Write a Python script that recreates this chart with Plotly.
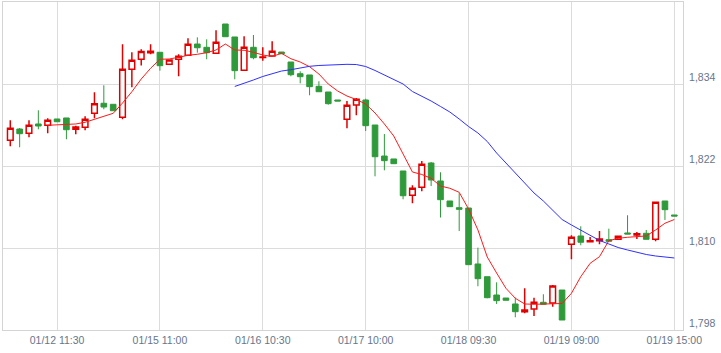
import plotly.graph_objects as go

# ---- data ----
opens = [1825.76, 1827.41, 1826.79, 1828.15, 1827.96, 1828.88, 1829.03, 1827.37, 1827.66, 1829.71,
         1831.18, 1831.03, 1829.13, 1836.15, 1837.62, 1838.58, 1838.64, 1836.88, 1837.62, 1838.20,
         1839.85, 1839.37, 1838.49, 1842.78, 1840.88, 1836.01, 1839.37, 1837.86, 1838.10, 1838.68,
         1837.22, 1835.51, 1835.32, 1833.66, 1832.83, 1831.66, 1828.84, 1830.93, 1831.66, 1828.00,
         1823.46, 1823.03, 1821.27, 1817.71, 1818.88, 1822.44, 1819.81, 1816.88, 1815.90, 1815.85,
         1807.66, 1805.80, 1803.12, 1802.68, 1801.81, 1800.68, 1801.07, 1802.05, 1801.95, 1803.85,
         1810.54, 1811.76, 1810.92, 1811.07, 1811.22, 1811.27, 1812.20, 1811.90, 1812.15, 1811.27,
         1816.88, 1814.83]
highs = [1828.69, 1827.56, 1828.69, 1830.15, 1828.98, 1828.88, 1829.03, 1827.90, 1829.27, 1832.79,
         1833.81, 1831.03, 1839.81, 1838.64, 1839.08, 1839.81, 1838.64, 1837.51, 1838.35, 1840.69,
         1840.83, 1840.54, 1841.86, 1842.78, 1840.88, 1840.98, 1841.17, 1839.37, 1840.25, 1838.68,
         1837.22, 1835.86, 1835.32, 1834.40, 1832.83, 1831.66, 1831.51, 1831.95, 1831.85, 1828.00,
         1826.68, 1823.03, 1821.27, 1819.18, 1822.73, 1822.59, 1821.08, 1816.88, 1818.01, 1815.85,
         1810.05, 1805.80, 1804.98, 1802.68, 1802.73, 1804.10, 1802.73, 1803.23, 1804.59, 1803.85,
         1811.86, 1813.18, 1811.61, 1812.49, 1812.83, 1811.71, 1814.79, 1812.34, 1812.64, 1816.69,
         1816.88, 1814.83]
lows = [1824.88, 1824.74, 1826.20, 1827.37, 1826.79, 1828.48, 1825.91, 1826.64, 1827.23, 1828.98,
        1830.30, 1830.09, 1828.84, 1833.52, 1836.71, 1838.35, 1835.95, 1836.88, 1835.13, 1838.20,
        1838.58, 1837.62, 1838.49, 1840.92, 1834.69, 1836.01, 1837.62, 1837.41, 1838.10, 1838.43,
        1835.13, 1834.10, 1832.35, 1832.87, 1830.97, 1831.51, 1827.52, 1829.42, 1827.12, 1820.49,
        1821.37, 1822.34, 1817.13, 1816.54, 1818.30, 1819.07, 1814.46, 1816.05, 1812.49, 1807.56,
        1804.40, 1802.64, 1801.81, 1802.35, 1799.86, 1800.45, 1800.05, 1801.76, 1801.41, 1799.46,
        1808.35, 1810.40, 1810.92, 1810.54, 1810.98, 1811.27, 1812.05, 1811.32, 1811.27, 1810.98,
        1814.10, 1814.68]
closes = [1827.52, 1826.73, 1827.96, 1827.85, 1828.69, 1828.48, 1827.31, 1827.71, 1828.84, 1831.12,
          1830.63, 1830.09, 1836.15, 1837.47, 1838.76, 1838.79, 1836.68, 1837.51, 1838.05, 1839.81,
          1839.31, 1838.58, 1840.10, 1840.92, 1835.95, 1839.37, 1837.85, 1837.95, 1838.79, 1838.43,
          1835.36, 1835.07, 1833.61, 1832.87, 1831.12, 1831.51, 1830.88, 1831.76, 1827.90, 1823.36,
          1822.78, 1822.34, 1817.65, 1818.74, 1822.25, 1819.95, 1817.07, 1816.05, 1815.66, 1807.56,
          1805.51, 1802.73, 1802.29, 1802.35, 1800.68, 1800.93, 1802.05, 1801.76, 1804.44, 1799.46,
          1811.57, 1810.84, 1811.07, 1811.32, 1810.98, 1811.71, 1812.05, 1812.09, 1811.27, 1816.69,
          1815.61, 1814.68]

ma_short_start = 4
ma_short = [1827.96, 1828.04, 1828.10, 1828.15, 1828.40, 1828.84, 1829.22, 1829.71, 1831.22, 1832.87,
            1834.73, 1836.30, 1837.62, 1837.66, 1837.91, 1838.20, 1838.35, 1838.58, 1838.98, 1839.85,
            1838.98, 1838.93, 1838.64, 1838.24, 1838.03, 1838.49, 1837.70, 1837.22, 1836.53, 1835.46,
            1834.00, 1832.98, 1832.24, 1831.73, 1831.07, 1829.76, 1828.15, 1826.39, 1823.76, 1821.12,
            1820.76, 1820.20, 1819.07, 1818.74, 1818.15, 1815.71, 1812.64, 1808.68, 1806.34, 1804.10,
            1802.64, 1801.81, 1801.76, 1801.81, 1801.81, 1801.88, 1803.37, 1805.80, 1807.76, 1808.73,
            1811.07, 1811.42, 1811.57, 1811.65, 1811.76, 1812.64, 1813.62, 1814.17]

ma_long_start = 24
ma_long = [1833.64, 1834.07, 1834.59, 1835.10, 1835.54, 1835.90, 1836.09, 1836.34, 1836.59, 1836.71,
           1836.78, 1836.83, 1836.88, 1836.85, 1836.56, 1835.98, 1835.32, 1834.73, 1834.00, 1832.90,
           1832.24, 1831.51, 1830.71, 1829.90, 1828.88, 1827.78, 1826.83, 1825.59, 1823.90, 1822.44,
           1820.98, 1819.37, 1818.05, 1816.88, 1815.56, 1814.17, 1813.37, 1812.64, 1811.90, 1811.10,
           1810.59, 1810.07, 1809.71, 1809.34, 1809.05, 1808.83, 1808.68, 1808.54]

tick_positions = [5, 16, 27, 38, 49, 60, 71]
tick_labels = ["01/12 11:30", "01/15 11:00", "01/16 10:30", "01/17 10:00",
               "01/18 09:30", "01/19 09:00", "01/19 15:00"]
y_ticks = [1798, 1810, 1822, 1834]

# ---- figure ----
x = list(range(len(opens)))
RED = "#e00000"
GREEN = "#2f9a3a"

fig = go.Figure()
fig.add_trace(go.Candlestick(
    x=x, open=opens, high=highs, low=lows, close=closes,
    increasing=dict(line=dict(color=RED, width=1.5), fillcolor="#ffffff"),
    decreasing=dict(line=dict(color=GREEN, width=1), fillcolor=GREEN),
    whiskerwidth=0, showlegend=False, hoverinfo="skip",
))
fig.add_trace(go.Scatter(
    x=list(range(ma_short_start, ma_short_start + len(ma_short))), y=ma_short,
    mode="lines", line=dict(color="#ff1a1a", width=1), showlegend=False, hoverinfo="skip",
))
fig.add_trace(go.Scatter(
    x=list(range(ma_long_start, ma_long_start + len(ma_long))), y=ma_long,
    mode="lines", line=dict(color="#3030ff", width=1), showlegend=False, hoverinfo="skip",
))

font = dict(family="Liberation Sans, Arial, sans-serif", size=10.5, color="#66768a")
fig.update_layout(
    width=721, height=353,
    margin=dict(l=3, r=38, t=2, b=23),
    paper_bgcolor="white", plot_bgcolor="white",
    boxgap=0.14,
    font=font,
    xaxis=dict(
        range=[-0.78, 71.93], rangeslider=dict(visible=False),
        tickmode="array", tickvals=tick_positions, ticktext=tick_labels,
        showgrid=True, gridcolor="#dcdcdc", gridwidth=1,
        showline=True, linecolor="#d4d4d4", linewidth=1, mirror=True,
        ticks="", zeroline=False, tickfont=font,
    ),
    yaxis=dict(
        range=[1798, 1846], side="right",
        tickmode="array", tickvals=y_ticks, tickformat=",d",
        showgrid=True, gridcolor="#dcdcdc", gridwidth=1,
        showline=True, linecolor="#d4d4d4", linewidth=1, mirror=True,
        ticks="", zeroline=False, tickfont=font,
        ticklabelshift=-7, ticklabelstandoff=3,
    ),
)

fig.write_html("out.html")
